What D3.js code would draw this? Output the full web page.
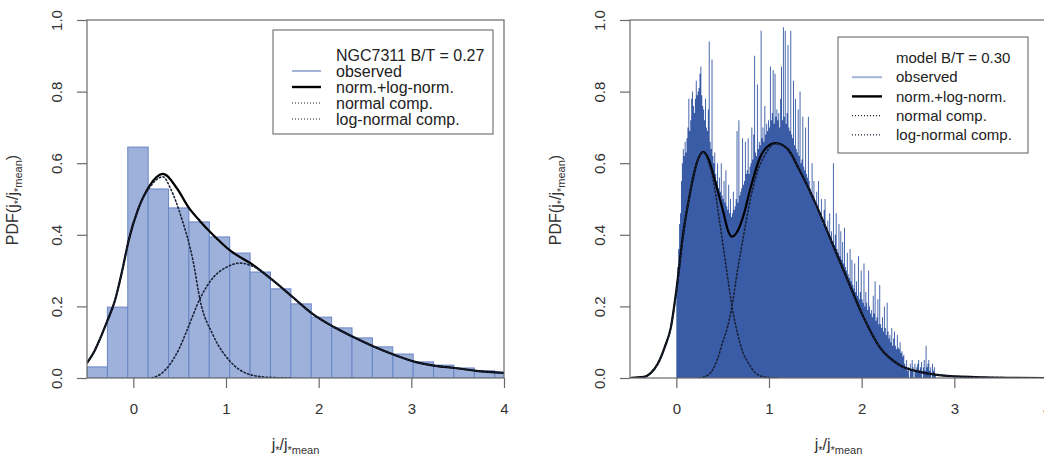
<!DOCTYPE html>
<html>
<head>
<meta charset="utf-8">
<script src="https://cdn.jsdelivr.net/npm/d3@7"></script>
<style>
  body { margin: 0; background: #fff; }
  svg { font-family: "Liberation Sans", Arial, sans-serif; }
</style>
</head>
<body>
<script>
// ---- data ----
var xTicks = [0, 1, 2, 3, 4];
var yTicks = [0, 0.2, 0.4, 0.6, 0.8, 1.0];

// NGC7311 observed histogram (bins of 0.22 starting at -0.5)
var obsStart = -0.5, obsBin = 0.22;
var obsHeights = [0.031, 0.198, 0.645, 0.528, 0.475, 0.436, 0.394, 0.349, 0.296, 0.249,
                  0.207, 0.170, 0.140, 0.112, 0.087, 0.067, 0.045, 0.036, 0.028, 0.020, 0.017];

var obsTotal = [[-0.5,0.042],[-0.42,0.075],[-0.35,0.115],[-0.28,0.16],[-0.2,0.215],[-0.12,0.3],
  [-0.05,0.385],[0.05,0.47],[0.17,0.535],[0.32,0.57],[0.47,0.53],[0.6,0.475],[0.72,0.438],
  [0.84,0.405],[1.05,0.355],[1.28,0.318],[1.5,0.274],[1.72,0.226],[1.93,0.18],[2.16,0.143],
  [2.37,0.115],[2.6,0.087],[2.82,0.064],[3.04,0.045],[3.26,0.034],[3.47,0.028],[3.7,0.02],[4.0,0.014]];
var obsNormal = [[-0.5,0.042],[-0.42,0.075],[-0.35,0.115],[-0.28,0.16],[-0.2,0.215],[-0.12,0.3],
  [-0.05,0.385],[0.05,0.47],[0.17,0.53],[0.32,0.562],[0.4,0.53],[0.51,0.455],[0.65,0.32],
  [0.72,0.218],[0.86,0.12],[1.05,0.045],[1.23,0.012],[1.45,0.002],[1.7,0]];
var obsLognormal = [[0.2,0],[0.3,0.012],[0.4,0.04],[0.5,0.085],[0.58,0.134],[0.72,0.222],
  [0.86,0.28],[1.01,0.31],[1.15,0.321],[1.28,0.313],[1.5,0.274],[1.72,0.226],[1.93,0.18],
  [2.16,0.143],[2.37,0.115],[2.6,0.087],[2.82,0.064],[3.04,0.045],[3.26,0.034],[3.47,0.028],
  [3.7,0.02],[4.0,0.014]];

// model histogram (bins of 0.01 starting at 0)
var modelStart = 0, modelBin = 0.01;
var modelHeights = [
  0.27,0.31,0.36,0.43,0.46,0.55,0.60,0.64,0.62,0.66,
  0.63,0.67,0.70,0.78,0.69,0.72,0.78,0.80,0.76,0.74,
  0.78,0.83,0.79,0.80,0.81,0.85,0.87,0.79,0.76,0.75,
  0.72,0.78,0.70,0.69,0.75,0.94,0.66,0.64,0.89,0.62,
  0.60,0.63,0.57,0.55,0.60,0.53,0.56,0.52,0.60,0.51,
  0.50,0.55,0.49,0.58,0.48,0.47,0.54,0.46,0.50,0.45,
  0.46,0.52,0.47,0.48,0.50,0.69,0.49,0.72,0.51,0.52,
  0.53,0.67,0.54,0.55,0.66,0.57,0.58,0.67,0.57,0.59,
  0.60,0.70,0.61,0.68,0.90,0.63,0.62,0.82,0.64,0.66,
  0.65,0.97,0.67,0.70,0.66,0.76,0.68,0.71,0.69,0.72,
  0.70,0.87,0.72,0.74,0.86,0.71,0.85,0.73,0.75,0.72,
  0.74,0.70,0.78,0.87,0.72,0.98,0.73,0.97,0.71,0.74,
  0.93,0.70,0.69,0.97,0.68,0.67,0.83,0.65,0.78,0.64,
  0.63,0.75,0.62,0.80,0.60,0.61,0.73,0.59,0.58,0.70,
  0.57,0.56,0.73,0.55,0.53,0.52,0.60,0.51,0.55,0.49,
  0.48,0.52,0.47,0.55,0.46,0.45,0.50,0.44,0.43,0.47,
  0.50,0.42,0.41,0.44,0.40,0.46,0.39,0.41,0.38,0.60,
  0.37,0.40,0.46,0.36,0.35,0.43,0.34,0.41,0.33,0.38,
  0.32,0.42,0.31,0.30,0.35,0.29,0.28,0.36,0.27,0.33,
  0.26,0.25,0.32,0.24,0.27,0.23,0.34,0.22,0.24,0.30,
  0.22,0.21,0.32,0.20,0.24,0.21,0.19,0.30,0.20,0.18,
  0.19,0.17,0.23,0.18,0.27,0.16,0.17,0.22,0.15,0.26,
  0.15,0.14,0.17,0.13,0.20,0.14,0.12,0.21,0.13,0.11,
  0.12,0.10,0.14,0.09,0.11,0.13,0.09,0.08,0.12,0.085,
  0.08,0.10,0.07,0.075,0.06,0.065,0.04,0.03,0.05,0.02,
  0.03,0.0,0.04,0.02,0.05,0.03,0.0,0.04,0.02,0.03,
  0.04,0.05,0.02,0.03,0.045,0.0,0.03,0.05,0.02,0.09,
  0.03,0.04,0.05,0.02,0.03,0.0,0.04,0.02,0.03,0.01];

var modelTotal = [[-0.5,0],[-0.35,0.003],[-0.28,0.013],[-0.2,0.04],[-0.12,0.09],[-0.06,0.14],
  [0,0.245],[0.075,0.405],[0.15,0.52],[0.22,0.6],[0.29,0.632],[0.35,0.61],[0.4,0.567],
  [0.46,0.51],[0.51,0.46],[0.56,0.41],[0.6,0.395],[0.66,0.41],[0.72,0.45],[0.8,0.53],
  [0.9,0.614],[0.98,0.646],[1.07,0.656],[1.2,0.64],[1.33,0.58],[1.51,0.483],[1.69,0.372],
  [1.87,0.26],[2.02,0.17],[2.2,0.084],[2.41,0.036],[2.63,0.017],[2.92,0.006],[3.3,0.002],[4.0,0]];
var modelNormal = [[-0.5,0],[-0.35,0.003],[-0.28,0.013],[-0.2,0.04],[-0.12,0.09],[-0.06,0.14],
  [0,0.24],[0.075,0.4],[0.15,0.52],[0.22,0.6],[0.29,0.63],[0.35,0.6],[0.4,0.55],[0.46,0.45],
  [0.51,0.36],[0.56,0.27],[0.6,0.2],[0.66,0.125],[0.72,0.07],[0.77,0.045],[0.85,0.015],
  [0.95,0.003],[1.1,0]];
var modelLognormal = [[0.25,0],[0.35,0.01],[0.44,0.05],[0.5,0.1],[0.55,0.14],[0.6,0.2],
  [0.66,0.3],[0.72,0.39],[0.8,0.5],[0.88,0.58],[0.95,0.62],[1.07,0.655],[1.2,0.64],[1.33,0.58],
  [1.51,0.483],[1.69,0.372],[1.87,0.26],[2.02,0.17],[2.2,0.084],[2.41,0.036],[2.63,0.017],
  [2.92,0.006],[3.3,0.002],[4.0,0]];

var legendLeft = ["NGC7311 B/T = 0.27", "observed", "norm.+log-norm.", "normal comp.", "log-normal comp."];
var legendRight = ["model B/T = 0.30", "observed", "norm.+log-norm.", "normal comp.", "log-normal comp."];

// ---- drawing ----
var width = 1044, height = 455;
var svg = d3.select("body").append("svg")
    .attr("width", width)
    .attr("height", height);

var plotTop = 20, plotBottom = 378;
var boxColor = "#6a6a6a";
var dotColor = "#1a2238";

function drawPanel(p) {
    var xs = d3.scaleLinear().domain([-0.5, 4]).range([p.left, p.right]);
    var ys = d3.scaleLinear().domain([0, 1]).range([plotBottom, plotTop]);

    var g = svg.append("g");
    var clipId = "clip" + p.id;
    svg.append("clipPath").attr("id", clipId)
        .append("rect")
        .attr("x", p.left).attr("y", plotTop)
        .attr("width", p.right - p.left).attr("height", plotBottom - plotTop);

    var plot = g.append("g").attr("clip-path", "url(#" + clipId + ")");

    if (p.bars == "rect") {
        plot.selectAll("rect.bar")
            .data(p.heights)
            .enter().append("rect")
            .attr("class", "bar")
            .attr("x", function(d, i) { return xs(p.start + i * p.bin); })
            .attr("width", xs(p.bin) - xs(0))
            .attr("y", function(d) { return ys(d); })
            .attr("height", function(d) { return ys(0) - ys(d); })
            .attr("fill", "#9db1db")
            .attr("stroke", "#6a85c6")
            .attr("stroke-width", 1);
    } else {
        // many narrow bins: one step outline so the body has no seams
        var pts = p.heights.map(function(d, i) { return [p.start + i * p.bin, d]; });
        pts.push([p.start + p.heights.length * p.bin, 0]);
        var area = d3.area()
            .x(function(d) { return xs(d[0]); })
            .y0(ys(0))
            .y1(function(d) { return ys(d[1]); })
            .curve(d3.curveStepAfter);
        plot.append("path")
            .attr("d", area(pts))
            .attr("fill", "#3a5ca7");
    }

    var line = d3.line()
        .x(function(d) { return xs(d[0]); })
        .y(function(d) { return ys(d[1]); })
        .curve(d3.curveMonotoneX);

    plot.append("path").attr("d", line(p.total))
        .attr("fill", "none").attr("stroke", "#000").attr("stroke-width", 2.2);
    [p.normal, p.lognormal].forEach(function(c) {
        plot.append("path").attr("d", line(c))
            .attr("fill", "none").attr("stroke", dotColor)
            .attr("stroke-width", 1.6)
            .attr("stroke-dasharray", "1.4,2.4")
            .attr("stroke-linecap", "round");
    });

    // box
    g.append("rect")
        .attr("x", p.left).attr("y", plotTop)
        .attr("width", p.right - p.left).attr("height", plotBottom - plotTop)
        .attr("fill", "none").attr("stroke", boxColor).attr("stroke-width", 1.2);

    // axes
    var yAxis = g.append("g").attr("transform", "translate(" + p.left + ",0)")
        .call(d3.axisLeft(ys).tickValues(yTicks).tickSize(10).tickFormat(d3.format(".1f")));
    var xAxis = g.append("g").attr("transform", "translate(0," + plotBottom + ")")
        .call(d3.axisBottom(xs).tickValues(xTicks).tickSize(10).tickPadding(15).tickFormat(d3.format("d")));
    [xAxis, yAxis].forEach(function(a) {
        a.select(".domain").remove();
        a.selectAll("line").attr("stroke", boxColor).attr("stroke-width", 1.2);
        a.selectAll("text").attr("fill", "#333").style("font-size", "15px").style("font-family", "inherit");
    });
    yAxis.selectAll("text")
        .attr("x", null)
        .attr("dy", "0.36em")
        .attr("text-anchor", "middle")
        .attr("transform", "translate(-30,0) rotate(-90)");

    // axis titles
    var xt = g.append("text")
        .attr("x", (p.left + p.right) / 2).attr("y", 450)
        .attr("text-anchor", "middle").attr("fill", "#333").style("font-size", "16px");
    addParts(xt, ["j", "*", "/j", "*mean"]);

    var yt = g.append("text")
        .attr("transform", "translate(" + (p.left - 69) + "," + 200 + ") rotate(-90)")
        .attr("text-anchor", "middle").attr("fill", "#333").style("font-size", "16px");
    addParts(yt, ["PDF(j", "*", "/j", "*mean", ")"]);

    // legend
    var lg = g.append("g");
    lg.append("rect")
        .attr("x", p.leg.x).attr("y", p.leg.y)
        .attr("width", p.leg.w).attr("height", p.leg.h)
        .attr("fill", "#fff").attr("stroke", boxColor).attr("stroke-width", 1.1);
    p.labels.forEach(function(txt, i) {
        var yy = p.leg.row0 + i * p.leg.step;
        lg.append("text")
            .attr("x", p.leg.tx).attr("y", yy).attr("dy", "0.35em")
            .attr("fill", "#222").style("font-size", p.leg.font + "px")
            .text(txt);
        if (i == 0) return;
        var s = lg.append("line")
            .attr("x1", p.leg.lx0).attr("x2", p.leg.lx1)
            .attr("y1", yy).attr("y2", yy);
        if (i == 1) s.attr("stroke", "#a3b4d6").attr("stroke-width", 2);
        else if (i == 2) s.attr("stroke", "#000").attr("stroke-width", 2.4);
        else s.attr("stroke", dotColor).attr("stroke-width", 1.2).attr("stroke-dasharray", "1,2");
    });
}

function addParts(t, parts) {
    parts.forEach(function(s, i) {
        var sub = i % 2 == 1;
        t.append("tspan")
            .attr("dy", sub ? 4 : (i > 0 ? -4 : 0))
            .style("font-size", sub ? "11px" : null)
            .text(s);
    });
}

drawPanel({
    id: "L", left: 87, right: 504,
    bars: "rect", start: obsStart, bin: obsBin, heights: obsHeights,
    total: obsTotal, normal: obsNormal, lognormal: obsLognormal,
    labels: legendLeft,
    leg: { x: 273, y: 30, w: 220, h: 104, tx: 336, lx0: 292, lx1: 321,
           row0: 55, step: 16, font: 16 }
});

drawPanel({
    id: "R", left: 630, right: 1047,
    bars: "step", start: modelStart, bin: modelBin, heights: modelHeights,
    total: modelTotal, normal: modelNormal, lognormal: modelLognormal,
    labels: legendRight,
    leg: { x: 838, y: 37, w: 190, h: 116, tx: 896, lx0: 852, lx1: 882,
           row0: 58, step: 19.2, font: 15 }
});
</script>
</body>
</html>
